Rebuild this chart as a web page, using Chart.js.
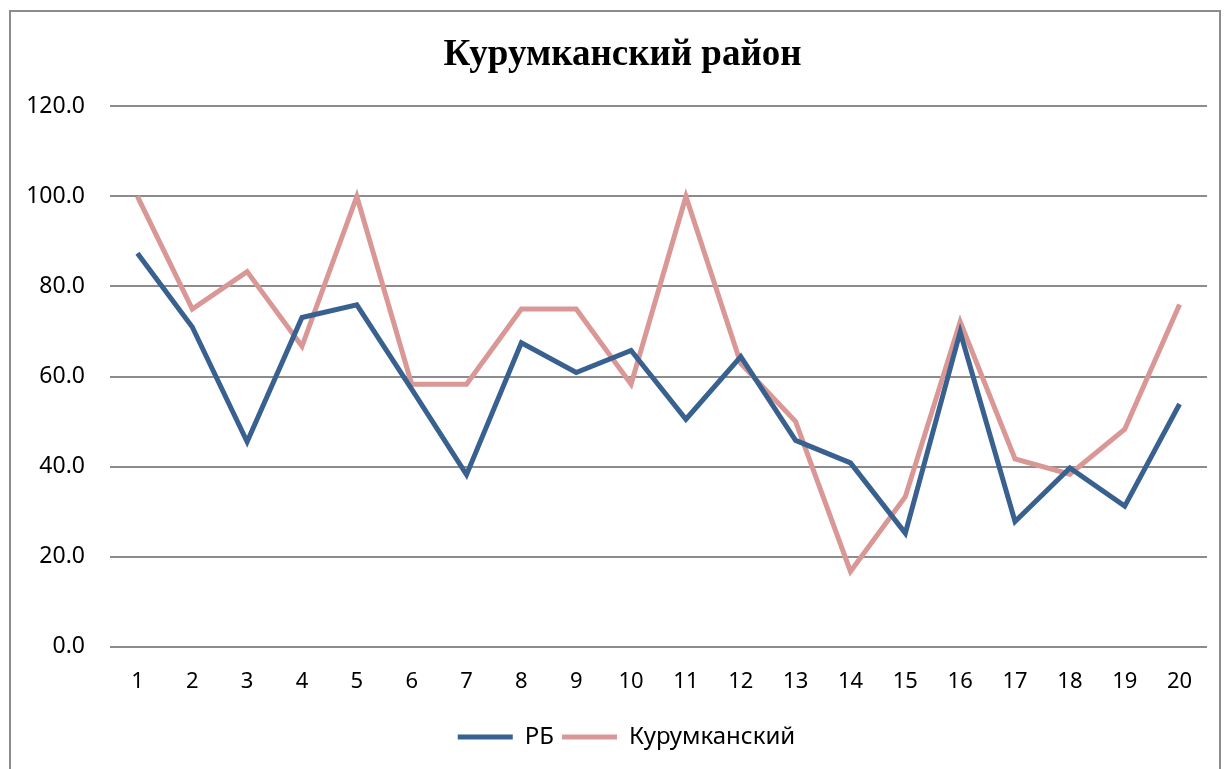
<!DOCTYPE html>
<html>
<head>
<meta charset="utf-8">
<script src="https://cdn.jsdelivr.net/npm/chart.js@4/dist/chart.umd.min.js"></script>
<style>
    body { margin: 0; background: #fff; }
    #wrap { position: relative; width: 1227px; height: 769px; }
    #frame { position: absolute; left: 9px; top: 10px; width: 1212px; height: 770px; border: 2px solid #8c8c8c; box-sizing: border-box; }
    canvas { position: absolute; left: 0; top: 0; }
</style>
</head>
<body>
<div id="wrap">
    <div id="frame"></div>
    <canvas id="lineChart" width="1227" height="769"></canvas>
</div>
<script>
const labels = ["1", "2", "3", "4", "5", "6", "7", "8", "9", "10", "11", "12", "13", "14", "15", "16", "17", "18", "19", "20"]
const rb = [87.4, 71.0, 45.5, 73.1, 75.9, 57.2, 38.2, 67.5, 60.9, 65.8, 50.5, 64.4, 45.8, 40.8, 25.2, 69.9, 27.8, 39.7, 31.2, 53.9]
const kurumkan = [100, 75.0, 83.3, 66.7, 100, 58.3, 58.3, 75.0, 75.0, 58.3, 100, 62.9, 50.0, 16.7, 33.3, 72.2, 41.7, 38.3, 48.3, 76.0]
const seriesNames = ["РБ", "Курумканский"]
const titleText = "Курумканский район"

Chart.defaults.font.family = "'Noto Sans', sans-serif"
Chart.defaults.color = "#000000"

// title and legend in the picture sit a bit right of the canvas centre
const shiftBlocks = {
    id: 'shiftBlocks',
    afterLayout(chart) {
        if (chart.titleBlock) {
            chart.titleBlock.left += 9
            chart.titleBlock.right += 9
        }
        if (chart.legend) {
            chart.legend.left += 13
            chart.legend.right += 13
        }
    }
}

const lineData = {
    labels: labels,
    datasets: [{
        label: seriesNames[0],
        data: rb,
        borderColor: '#38618f',
        backgroundColor: '#38618f',
        borderWidth: 5,
        pointRadius: 0,
        tension: 0
    }, {
        label: seriesNames[1],
        data: kurumkan,
        borderColor: '#d99795',
        backgroundColor: '#d99795',
        borderWidth: 5,
        pointRadius: 0,
        tension: 0
    }]
};

const lineConfig = {
    type: 'line',
    data: lineData,
    plugins: [shiftBlocks],
    options: {
        responsive: false,
        animation: false,
        layout: {
            padding: { left: 20, right: 20, top: 0, bottom: 10 }
        },
        plugins: {
            title: {
                display: true,
                text: titleText,
                font: { family: "'Liberation Serif', serif", size: 37, weight: 'bold' },
                padding: { top: 33, bottom: 29 }
            },
            legend: {
                position: 'bottom',
                labels: {
                    usePointStyle: true,
                    pointStyle: 'line',
                    pointStyleWidth: 55,
                    padding: 8,
                    font: { size: 24 }
                }
            },
            tooltip: { enabled: false }
        },
        scales: {
            x: {
                offset: true,
                grid: { display: false, drawTicks: false },
                border: { display: false },
                ticks: { padding: 22, font: { size: 22 }, maxRotation: 0 }
            },
            y: {
                min: 0,
                max: 120,
                afterFit: function (scale) { scale.width = 90 },
                grid: { color: '#8c8c8c', lineWidth: 2, drawTicks: false },
                border: { display: false },
                ticks: {
                    stepSize: 20,
                    padding: 25,
                    font: { size: 23 },
                    callback: function (value) { return value.toFixed(1) }
                }
            }
        }
    }
};

const lineChart = new Chart(
    document.getElementById('lineChart'),
    lineConfig,
);
</script>
</body>
</html>
